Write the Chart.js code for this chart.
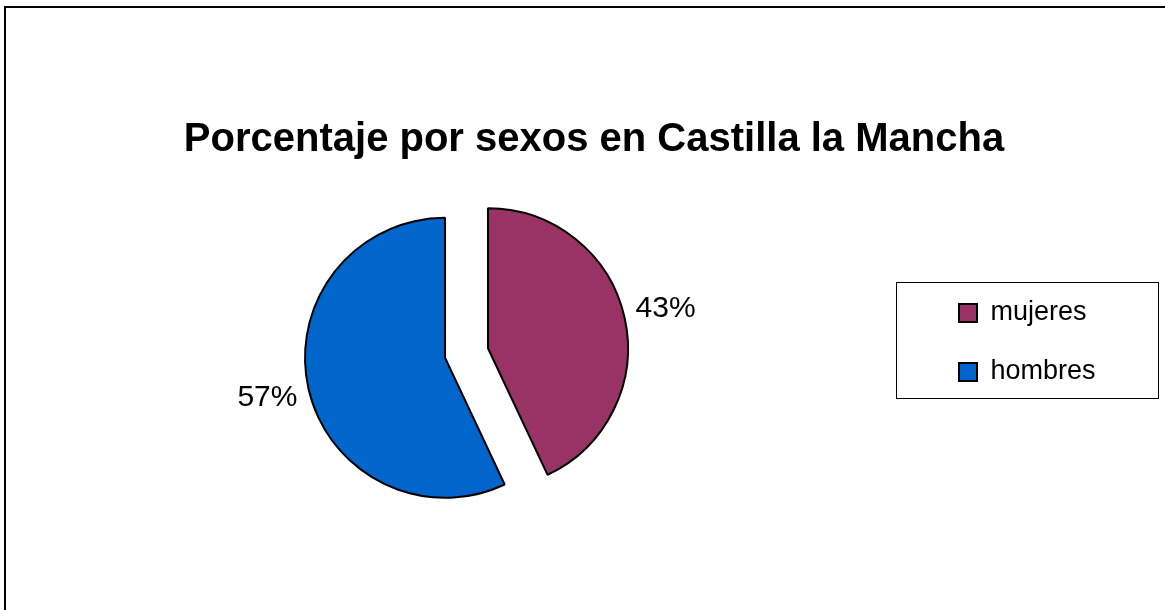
<!DOCTYPE html>
<html lang="es">
<head>
<meta charset="utf-8">
<title>Porcentaje por sexos en Castilla la Mancha</title>
<script src="https://cdn.jsdelivr.net/npm/chart.js@4/dist/chart.umd.min.js"></script>
<style>
  html, body { margin: 0; padding: 0; background: #fff; overflow: hidden; }
  #wrap { width: 1165px; height: 610px; }
  canvas { display: block; }
</style>
</head>
<body>
<div id="wrap"><canvas id="chart" width="1165" height="610"></canvas></div>
<script>
// ---- data ----
const chartTitle = 'Porcentaje por sexos en Castilla la Mancha';
const categories = ['mujeres', 'hombres'];
const percentages = [43, 57];
const sliceColors = ['#993366', '#0066CC'];

// ---- styling ----
const FONT = '"Liberation Sans", Arial, Helvetica, sans-serif';
const EXPLODE = 22;      // how far each slice is pulled away from the pie centre (px)
const LABEL_DIST = 182;  // distance from a slice's centre to its percentage label (px)

// White page plus the thin frame along the top and left edges
const framePlugin = {
  id: 'frame',
  beforeDraw(chart) {
    const { ctx, width, height } = chart;
    ctx.save();
    ctx.fillStyle = '#fff';
    ctx.fillRect(0, 0, width, height);
    ctx.strokeStyle = '#000';
    ctx.lineWidth = 2;
    ctx.beginPath();
    ctx.moveTo(5, height);
    ctx.lineTo(5, 7);
    ctx.lineTo(width, 7);
    ctx.stroke();
    ctx.restore();
  }
};

// Pull every slice outwards along its bisector (exploded pie)
const explodePlugin = {
  id: 'explode',
  afterDatasetUpdate(chart, args) {
    args.meta.data.forEach(arc => {
      const mid = (arc.startAngle + arc.endAngle) / 2;
      arc.x += Math.cos(mid) * EXPLODE;
      arc.y += Math.sin(mid) * EXPLODE;
    });
  }
};

// Percentage label outside each slice
const valueLabelPlugin = {
  id: 'valueLabels',
  afterDatasetsDraw(chart) {
    const { ctx } = chart;
    const meta = chart.getDatasetMeta(0);
    const values = chart.data.datasets[0].data;
    const total = values.reduce((a, b) => a + b, 0);
    ctx.save();
    ctx.font = '30px ' + FONT;
    ctx.fillStyle = '#000';
    ctx.textAlign = 'center';
    ctx.textBaseline = 'middle';
    meta.data.forEach((arc, i) => {
      const mid = (arc.startAngle + arc.endAngle) / 2;
      const x = arc.x + Math.cos(mid) * LABEL_DIST;
      const y = arc.y + Math.sin(mid) * LABEL_DIST;
      ctx.fillText(Math.round(values[i] / total * 100) + '%', x, y);
    });
    ctx.restore();
  }
};

// Heading across the top and the box around the legend
const headingPlugin = {
  id: 'heading',
  afterDraw(chart) {
    const { ctx } = chart;
    ctx.save();
    ctx.font = 'bold 40px ' + FONT;
    ctx.fillStyle = '#000';
    ctx.textAlign = 'center';
    ctx.textBaseline = 'alphabetic';
    ctx.fillText(chartTitle, 594, 151);

    ctx.strokeStyle = '#000';
    ctx.lineWidth = 1;
    ctx.strokeRect(896.5, 282.5, 262, 116);
    ctx.restore();
  }
};

new Chart(document.getElementById('chart'), {
  type: 'pie',
  data: {
    labels: categories,
    datasets: [{
      data: percentages,
      backgroundColor: sliceColors,
      borderColor: '#000',
      borderWidth: 2,
      hoverOffset: 0,
      clip: false
    }]
  },
  options: {
    responsive: false,
    animation: false,
    events: [],
    radius: 140,
    layout: { padding: { left: 6, right: 68, top: 267.5, bottom: 171.5 } },
    plugins: {
      title: { display: false },
      tooltip: { enabled: false },
      legend: {
        position: 'right',
        align: 'start',
        maxWidth: 170,
        labels: {
          boxWidth: 18,
          boxHeight: 18,
          padding: 32,
          color: '#000',
          font: { family: FONT, size: 27 }
        }
      }
    }
  },
  plugins: [framePlugin, explodePlugin, valueLabelPlugin, headingPlugin]
});
</script>
</body>
</html>
